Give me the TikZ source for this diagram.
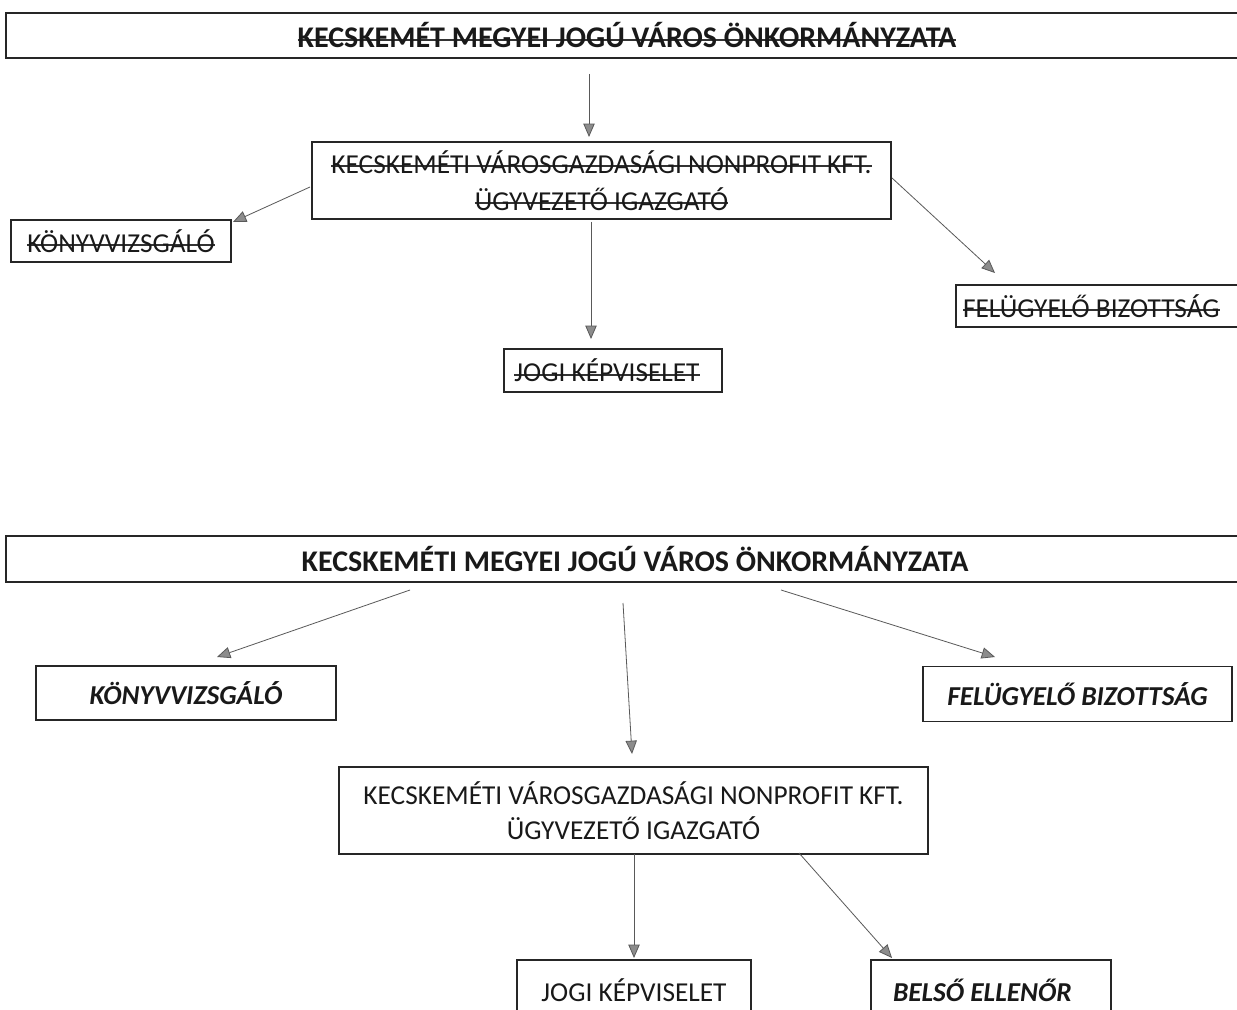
\documentclass[tikz,border=0pt]{standalone}
\usepackage{fontspec}
\setmainfont{Carlito}
\usetikzlibrary{arrows.meta}
\newsavebox{\stbox}
\newcommand{\st}[1]{\sbox{\stbox}{#1}\rlap{\raisebox{0.23em}{\color{black!80}\rule{\wd\stbox}{1.3pt}}}\usebox{\stbox}}
\newcommand{\lft}[2]{\makebox[#1][l]{#2}}
\begin{document}
\begin{tikzpicture}[x=0.75pt,y=-0.75pt,
  box/.style={draw=black!85,line width=1pt,rectangle,inner sep=0pt,align=center,text=black!90},
  fnt/.style={font=\fontsize{20.5}{30}\selectfont},
  ttl/.style={font=\fontsize{22.5}{30}\selectfont\bfseries},
  bif/.style={font=\fontsize{20.5}{30}\selectfont\bfseries\itshape},
  arr/.style={draw=black!65,line width=0.6pt,-{Triangle[length=10pt,width=8.5pt,fill=black!45]}}
]
\useasboundingbox[fill=white] (0,0) rectangle (1237,1009);

% ---------- upper chart (struck through) ----------
\node[box,ttl,minimum width=1242*0.75pt,minimum height=45*0.75pt] (t1) at (627,35.5)
  {\st{KECSKEMÉT MEGYEI JOGÚ VÁROS ÖNKORMÁNYZATA}};
\node[box,font=\fontsize{20.5}{27.75}\selectfont,minimum width=579*0.75pt,minimum height=77*0.75pt] (b1) at (601.5,180.5)
  {\st{KECSKEMÉTI VÁROSGAZDASÁGI NONPROFIT KFT.}\\\st{ÜGYVEZETŐ IGAZGATÓ}};
\node[box,fnt,minimum width=220*0.75pt,minimum height=42*0.75pt] (k1) at (121,241)
  {\st{KÖNYVVIZSGÁLÓ}};
\node[box,fnt,minimum width=218*0.75pt,minimum height=43*0.75pt] (j1) at (613,370.5)
  {\hspace*{-9pt}\st{JOGI KÉPVISELET}};
\node[box,fnt,minimum width=289*0.75pt,minimum height=42*0.75pt] (f1) at (1100.5,306)
  {\lft{206.25pt}{\st{FELÜGYELŐ BIZOTTSÁG}}};

\coordinate (a1s) at (589,74);   \coordinate (a1e) at (589,137);
\coordinate (a2s) at (310,187);  \coordinate (a2e) at (233,222);
\coordinate (a3s) at (591,222);  \coordinate (a3e) at (591,339);
\coordinate (a4s) at (892,178);  \coordinate (a4e) at (995,273);
\draw[arr] (a1s) -- (a1e);
\draw[arr] (a2s) -- (a2e);
\draw[arr] (a3s) -- (a3e);
\draw[arr] (a4s) -- (a4e);

% ---------- lower chart ----------
\node[box,ttl,minimum width=1258*0.75pt,minimum height=46*0.75pt] (t2) at (635,559)
  {KECSKEMÉTI MEGYEI JOGÚ VÁROS ÖNKORMÁNYZATA};
\node[box,bif,minimum width=300*0.75pt,minimum height=54*0.75pt] (k2) at (186,693)
  {KÖNYVVIZSGÁLÓ};
\node[box,bif,minimum width=309*0.75pt,minimum height=55*0.75pt] (f2) at (1077.5,694)
  {FELÜGYELŐ BIZOTTSÁG};
\node[box,font=\fontsize{20.5}{26.25}\selectfont,minimum width=589*0.75pt,minimum height=87*0.75pt] (b2) at (633.5,810.5)
  {KECSKEMÉTI VÁROSGAZDASÁGI NONPROFIT KFT.\\ÜGYVEZETŐ IGAZGATÓ};
\node[box,fnt,minimum width=234*0.75pt,minimum height=60*0.75pt] (j2) at (634,990)
  {JOGI KÉPVISELET};
\node[box,bif,minimum width=240*0.75pt,minimum height=60*0.75pt] (be) at (991,990)
  {\lft{147pt}{BELSŐ ELLENŐR}};

\coordinate (c1s) at (410,590);  \coordinate (c1e) at (217,657);
\coordinate (c2s) at (623,603);  \coordinate (c2e) at (632,754);
\coordinate (c3s) at (781,590);  \coordinate (c3e) at (995,657);
\coordinate (c4s) at (634,854);  \coordinate (c4e) at (634,958);
\coordinate (c5s) at (799,853);  \coordinate (c5e) at (892,958);
\draw[arr] (c1s) -- (c1e);
\draw[arr] (c2s) -- (c2e);
\draw[arr] (c3s) -- (c3e);
\draw[arr] (c4s) -- (c4e);
\draw[arr] (c5s) -- (c5e);
\end{tikzpicture}
\end{document}
